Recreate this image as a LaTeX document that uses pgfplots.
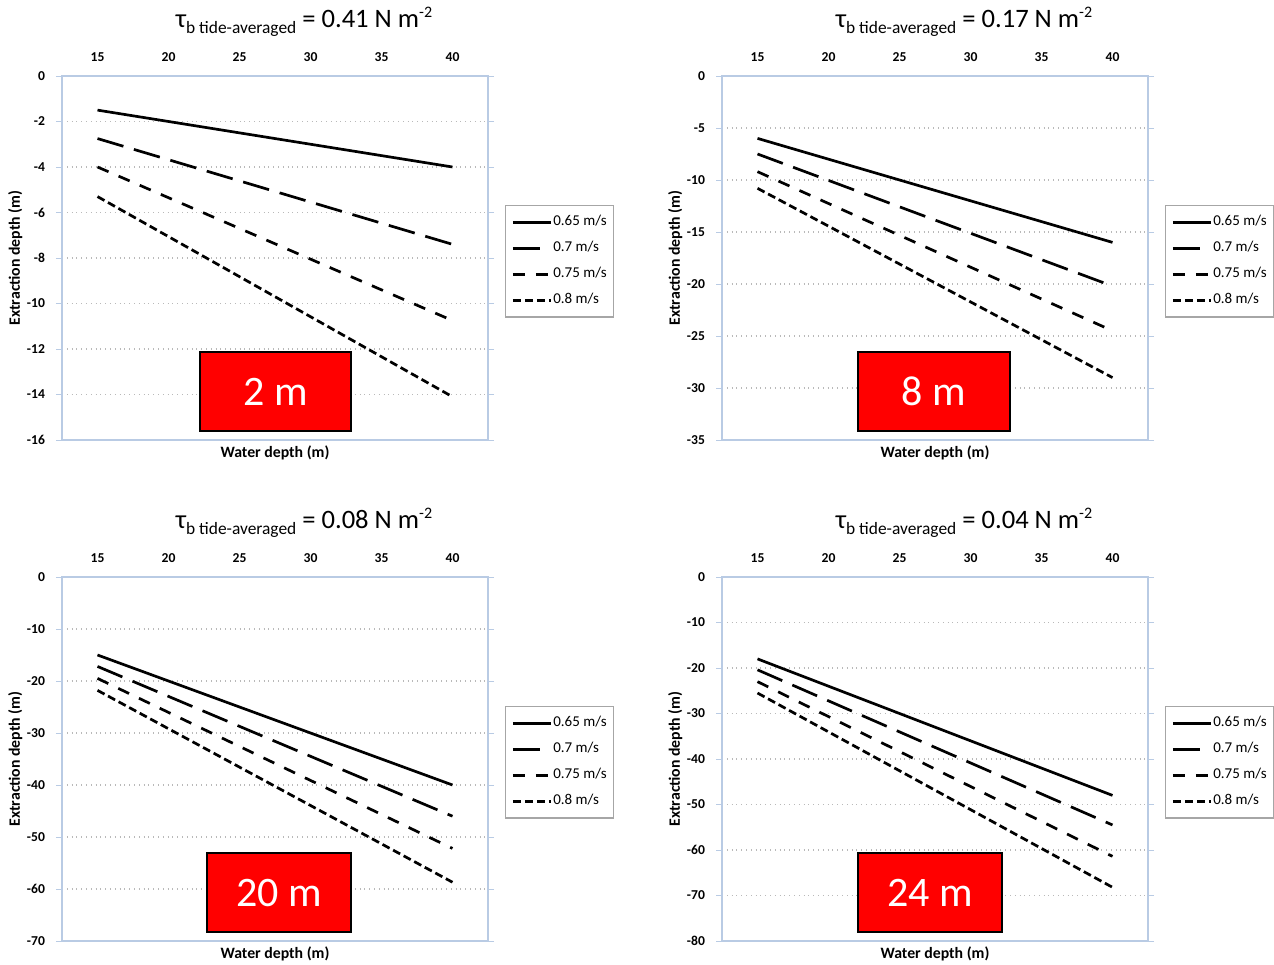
\documentclass[border=0pt]{standalone}
\usepackage{fontspec}
\setmainfont{Carlito}
\usepackage{pgfplots}
\pgfplotsset{compat=1.18}
\definecolor{framecol}{RGB}{185,203,228}
\definecolor{boxred}{RGB}{255,0,0}
\tikzset{
  s1/.style={black,line width=1.35pt},
  s2/.style={black,line width=1.35pt,dash pattern=on 13.5pt off 5.5pt},
  s3/.style={black,line width=1.35pt,dash pattern=on 6pt off 5.5pt},
  s4/.style={black,line width=1.35pt,dash pattern=on 4pt off 2pt},
  redbox/.style={fill=boxred, draw=black, line width=1pt, text=white,
    font=\fontsize{21}{22}\selectfont, minimum height=39.5pt, inner sep=0pt},
}
\pgfplotsset{
  legend image code/.code={\draw[#1] (0pt,0pt) -- (19pt,0pt);},
  panel/.style={
    scale only axis, width=213pt, height=182pt,
    xmin=12.5, xmax=42.5, ymax=0,
    xtick={15,20,25,30,35,40},
    xticklabel pos=upper,
    xticklabel={\pgfmathparse{int(\tick)}\pgfmathresult},
    yticklabel={\pgfmathparse{int(\tick)}\pgfmathresult},
    tick label style={font=\bfseries\fontsize{6.8}{7}\selectfont},
    xticklabel style={yshift=0.6pt},
    yticklabel style={xshift=-2pt},
    xtick style={draw=none},
    ytick style={framecol},
    tick align=outside, major tick length=3pt,
    ymajorgrids, grid style={gray!55, dotted, line width=0.6pt},
    axis line style={framecol, line width=0.8pt},
    xlabel={Water depth (m)},
    ylabel={Extraction depth (m)},
    label style={font=\bfseries\fontsize{7.9}{9}\selectfont},
    xlabel style={at={(axis description cs:0.5,-0.036)}, anchor=center},
    ylabel style={at={(axis description cs:-0.110,0.5)}, anchor=center, rotate=0},
    legend style={at={(axis description cs:1.04,0.646)}, anchor=north west,
      draw=gray!70, line width=0.6pt, font=\fontsize{7.5}{8}\selectfont,
      row sep=2.3pt, inner xsep=3pt, inner ysep=3pt, legend cell align=left,
      nodes={inner xsep=0.5pt}},
  },
}
\newcommand{\ttl}[1]{{\fontsize{13.3}{15}\selectfont τ\raisebox{-3pt}{\fontsize{8.7}{10}\selectfont b tide-averaged} = #1 N m\raisebox{5pt}{\fontsize{8}{9}\selectfont -2}}}
\begin{document}
\begin{tikzpicture}
\useasboundingbox (0,0) rectangle (637pt,482pt);
% ---------------- top left
\begin{axis}[panel, at={(31pt,444pt)}, anchor=north west,
  ymin=-16, ytick={-16,-14,-12,-10,-8,-6,-4,-2,0}]
\addplot[s1] coordinates {(15,-1.5) (20,-2.0) (25,-2.5) (30,-3.0) (35,-3.5) (40,-4.0)};
\addplot[s2] coordinates {(15,-2.75) (20,-3.68) (25,-4.61) (30,-5.54) (35,-6.47) (40,-7.4)};
\addplot[s3] coordinates {(15,-4.0) (20,-5.35) (25,-6.7) (30,-8.05) (35,-9.4) (40,-10.75)};
\addplot[s4] coordinates {(15,-5.3) (20,-7.06) (25,-8.82) (30,-10.58) (35,-12.34) (40,-14.1)};
\legend{0.65 m/s, 0.7 m/s, 0.75 m/s, 0.8 m/s}
\node[redbox, minimum width=75.5pt] at (rel axis cs:0.501,0.133) {2 m};
\end{axis}
% ---------------- top right
\begin{axis}[panel, at={(361pt,444pt)}, anchor=north west,
  ymin=-35, ytick={-35,-30,-25,-20,-15,-10,-5,0}]
\addplot[s1] coordinates {(15,-6) (20,-8) (25,-10) (30,-12) (35,-14) (40,-16)};
\addplot[s2] coordinates {(15,-7.5) (20,-10.04) (25,-12.58) (30,-15.12) (35,-17.66) (40,-20.2)};
\addplot[s3] coordinates {(15,-9.2) (20,-12.26) (25,-15.32) (30,-18.38) (35,-21.44) (40,-24.5)};
\addplot[s4] coordinates {(15,-10.8) (20,-14.44) (25,-18.08) (30,-21.72) (35,-25.36) (40,-29.0)};
\legend{0.65 m/s, 0.7 m/s, 0.75 m/s, 0.8 m/s}
\node[redbox, minimum width=76pt] at (rel axis cs:0.498,0.133) {8 m};
\end{axis}
% ---------------- bottom left
\begin{axis}[panel, at={(31pt,193.5pt)}, anchor=north west,
  ymin=-70, ytick={-70,-60,-50,-40,-30,-20,-10,0}]
\addplot[s1] coordinates {(15,-15) (20,-20) (25,-25) (30,-30) (35,-35) (40,-40)};
\addplot[s2] coordinates {(15,-17.2) (20,-22.96) (25,-28.72) (30,-34.48) (35,-40.24) (40,-46.0)};
\addplot[s3] coordinates {(15,-19.5) (20,-26.04) (25,-32.58) (30,-39.12) (35,-45.66) (40,-52.2)};
\addplot[s4] coordinates {(15,-21.8) (20,-29.18) (25,-36.56) (30,-43.94) (35,-51.32) (40,-58.7)};
\legend{0.65 m/s, 0.7 m/s, 0.75 m/s, 0.8 m/s}
\node[redbox, minimum width=72pt] at (rel axis cs:0.509,0.133) {20 m};
\end{axis}
% ---------------- bottom right
\begin{axis}[panel, at={(361pt,193.5pt)}, anchor=north west,
  ymin=-80, ytick={-80,-70,-60,-50,-40,-30,-20,-10,0}]
\addplot[s1] coordinates {(15,-18) (20,-24) (25,-30) (30,-36) (35,-42) (40,-48)};
\addplot[s2] coordinates {(15,-20.4) (20,-27.22) (25,-34.04) (30,-40.86) (35,-47.68) (40,-54.5)};
\addplot[s3] coordinates {(15,-23.0) (20,-30.68) (25,-38.36) (30,-46.04) (35,-53.72) (40,-61.4)};
\addplot[s4] coordinates {(15,-25.5) (20,-34.04) (25,-42.58) (30,-51.12) (35,-59.66) (40,-68.2)};
\legend{0.65 m/s, 0.7 m/s, 0.75 m/s, 0.8 m/s}
\node[redbox, minimum width=72pt] at (rel axis cs:0.488,0.133) {24 m};
\end{axis}
% ---------------- titles
\node[anchor=base] at (152pt,468pt) {\ttl{0.41}};
\node[anchor=base] at (482pt,468pt) {\ttl{0.17}};
\node[anchor=base] at (152pt,217.5pt) {\ttl{0.08}};
\node[anchor=base] at (482pt,217.5pt) {\ttl{0.04}};
\end{tikzpicture}
\end{document}
